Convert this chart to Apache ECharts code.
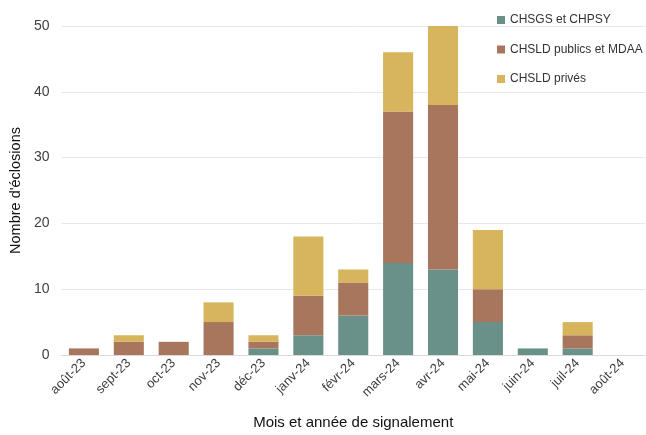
<!DOCTYPE html>
<html>
<head>
<meta charset="utf-8">
<script src="https://cdn.jsdelivr.net/npm/echarts@6/dist/echarts.min.js"></script>
<style>
  html, body { margin: 0; padding: 0; background: #fff; }
  #chart { width: 646px; height: 435px; }
</style>
</head>
<body>
<div id="chart"></div>
<script>
const months = ["août-23", "sept-23", "oct-23", "nov-23", "déc-23", "janv-24", "févr-24", "mars-24", "avr-24", "mai-24", "juin-24", "juil-24", "août-24"];
const chsgsChpsy = [0, 0, 0, 0, 1, 3, 6, 14, 13, 5, 1, 1, 0];
const chsldPublics = [1, 2, 2, 5, 1, 6, 5, 23, 25, 5, 0, 2, 0];
const chsldPrives = [0, 1, 0, 3, 1, 9, 2, 9, 12, 9, 0, 2, 0];

const font = "'Liberation Sans', Arial, sans-serif";
const textColor = "#404040";

const chart = echarts.init(document.getElementById("chart"));

const bar = (name, data, color) => ({
  name,
  type: "bar",
  stack: "total",
  data,
  barCategoryGap: "33%",
  itemStyle: { color },
  emphasis: { disabled: true }
});

chart.setOption({
  animation: false,
  textStyle: { fontFamily: font },
  grid: { left: 60, right: 1, top: 26, bottom: 78 },
  legend: {
    orient: "vertical",
    left: 492,
    top: 9,
    itemWidth: 8,
    itemHeight: 8,
    itemGap: 17.5,
    icon: "rect",
    textStyle: { fontFamily: font, fontSize: 12, color: "#333" },
    data: ["CHSGS et CHPSY", "CHSLD publics et MDAA", "CHSLD privés"]
  },
  xAxis: {
    type: "category",
    data: months,
    name: "Mois et année de signalement",
    nameLocation: "middle",
    nameGap: 60,
    nameTextStyle: { fontFamily: font, fontSize: 15, color: "#111" },
    axisLine: { lineStyle: { color: "#d9d9d9" } },
    axisTick: { length: 5, lineStyle: { color: "#d9d9d9" } },
    axisLabel: { rotate: 45, fontSize: 13, color: textColor, margin: 6 }
  },
  yAxis: {
    type: "value",
    min: 0,
    max: 50,
    interval: 10,
    name: "Nombre d'éclosions",
    nameLocation: "middle",
    nameGap: 36,
    nameTextStyle: { fontFamily: font, fontSize: 14.5, color: "#111" },
    axisLine: { show: false },
    axisTick: { show: false },
    axisLabel: { fontSize: 14, color: textColor, margin: 12 },
    splitLine: { lineStyle: { color: "#e8e8e8" } }
  },
  series: [
    bar("CHSGS et CHPSY", chsgsChpsy, "#6a908a"),
    bar("CHSLD publics et MDAA", chsldPublics, "#a8765c"),
    bar("CHSLD privés", chsldPrives, "#d6b55c")
  ]
});
</script>
</body>
</html>
